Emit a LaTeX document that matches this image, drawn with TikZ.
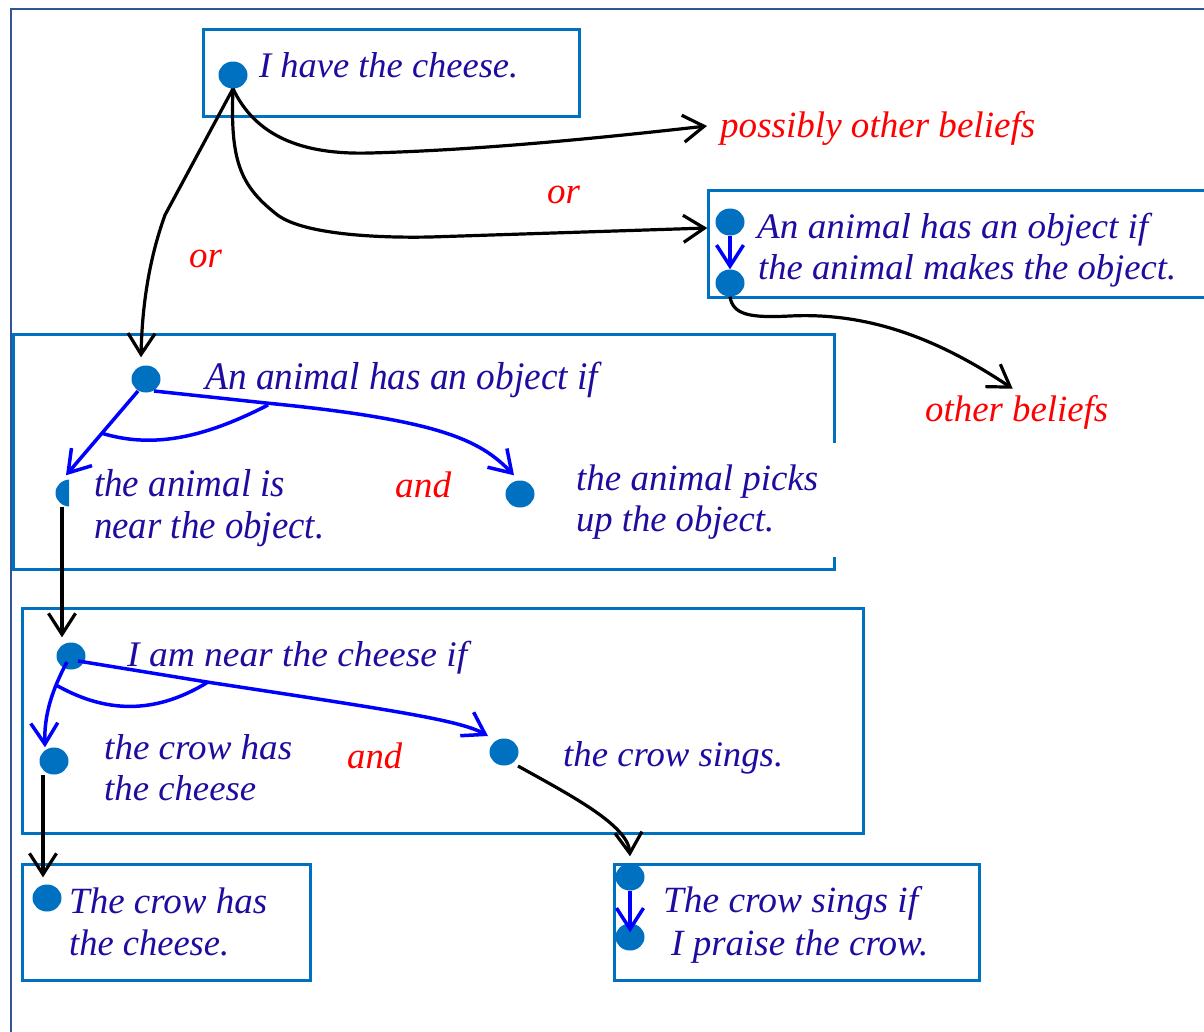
\documentclass[tikz,border=0pt]{standalone}
\usepackage{fontspec}
\setmainfont{Liberation Serif}
\usetikzlibrary{arrows.meta,shapes.geometric}
\definecolor{boxblue}{RGB}{0,112,192}
\definecolor{frameblue}{RGB}{47,85,151}
\definecolor{ink}{RGB}{30,12,160}
\newcommand{\fitw}[2]{\resizebox{#1pt}{\height}{#2}}
\begin{document}
\begin{tikzpicture}[x=1pt,y=-1pt,
  dot/.style={ellipse, fill=boxblue, minimum width=29pt, minimum height=27pt, inner sep=0pt},
  box/.style={draw=boxblue, line width=3pt},
  txt/.style={anchor=base west, inner sep=0pt, text=ink, font=\fontsize{#1}{#1}\selectfont\itshape},
  txt/.default=37,
  lbl/.style={anchor=base west, inner sep=0pt, text=red, font=\fontsize{37}{37}\selectfont\itshape},
  blk/.style={draw=black, line width=3.2pt, -{Straight Barb[length=21pt,width=27pt]}},
  blu/.style={draw=blue, line width=3.5pt, -{Straight Barb[length=21pt,width=27pt]}},
  arc/.style={draw=blue, line width=3.5pt},
]
\useasboundingbox (0,0) rectangle (1204,1031);
\fill[white] (0,0) rectangle (1204,1031);
% outer frame
\draw[frameblue, line width=2.5pt] (11,1045) -- (11,9) -- (1220,9);

% boxes
\draw[box] (203,29) rectangle (579,116);
\draw[box] (1220,190) -- (708,190) -- (708,297) -- (1220,297);
\draw[box] (834,443) -- (834,334) -- (13,334) -- (13,569) -- (834,569) -- (834,557);
\draw[box] (22,608) rectangle (863,833);
\draw[box] (22,864) rectangle (310,980);
\draw[box] (614,864) rectangle (979,980);

% dots
\node[dot] (d1) at (233,75) {};
\node[dot] (d2a) at (730,222) {};
\node[dot] (d2b) at (730,283) {};
\node[dot] (d3) at (146,379) {};
\begin{scope}
  \clip (40,470) rectangle (69,520);
  \node[dot] (d3a) at (70,493) {};
\end{scope}
\node[dot] (d3b) at (520,494) {};
\node[dot] (d4) at (71,656) {};
\node[dot] (d4a) at (54,761) {};
\node[dot] (d4b) at (504,752) {};
\node[dot] (d5) at (47,898) {};
\node[dot] (d6a) at (630,877) {};
\node[dot] (d6b) at (630,937) {};

% texts
\node[txt=36] (t1) at (259,77) {\fitw{259}{I have the cheese.}};
\node[lbl] (pob) at (720,137) {\fitw{315}{possibly other beliefs}};
\node[lbl] (or1) at (547,203) {or};
\node[lbl] (or2) at (189,267) {or};
\node[txt=36] (t2a) at (757,238) {\fitw{391}{An animal has an object if}};
\node[txt=36] (t2b) at (758,279) {\fitw{418}{the animal makes the object.}};
\node[lbl] (ob) at (925,421) {\fitw{183}{other beliefs}};
\node[txt=39] (t3) at (205,389) {\fitw{393}{An animal has an object if}};
\node[txt=39] (t3a1) at (94,496) {\fitw{191}{the animal is}};
\node[txt=39] (t3a2) at (94,538) {\fitw{230}{near the object.}};
\node[lbl] (and1) at (395,497) {\fitw{56}{and}};
\node[txt] (t3b1) at (576,490) {\fitw{242}{the animal picks}};
\node[txt] (t3b2) at (576,531) {\fitw{198}{up the object.}};
\node[txt=36] (t4) at (127,666) {\fitw{340}{I am near the cheese if}};
\node[txt=36] (t4a1) at (104,759) {\fitw{188}{the crow has}};
\node[txt=36] (t4a2) at (104,800) {\fitw{152}{the cheese}};
\node[lbl] (and2) at (347,768) {\fitw{55}{and}};
\node[txt=36] (t4b) at (563,766) {\fitw{220}{the crow sings.}};
\node[txt] (t5a) at (69,913) {\fitw{198}{The crow has}};
\node[txt] (t5b) at (69,955) {\fitw{160}{the cheese.}};
\node[txt] (t6a) at (663,912) {\fitw{255}{The crow sings if}};
\node[txt] (t6b) at (671,955) {\fitw{257}{I praise the crow.}};

% black connectors
\draw[blk] (d1.south) .. controls (255,135) and (300,155) .. (370,153)
  .. controls (480,150) and (600,138) .. ([xshift=-13pt,yshift=2pt]pob.west);
\draw[blk] (d1.south) .. controls (230,160) and (240,185) .. (275,213)
  .. controls (300,235) and (380,238) .. (430,237) -- ([xshift=-8pt,yshift=-6pt]d2a.west);
\draw[blk] (d1.south) -- (165,215) .. controls (148,262) and (142,310) .. ([xshift=-5pt,yshift=8pt]d3.north);
\draw[blk] (d2b.south) .. controls (733,315) and (750,318) .. (790,316)
  .. controls (870,312) and (940,340) .. ([xshift=-4pt,yshift=6pt]ob.north);
\draw[blk] ([xshift=-8pt]d3a.south) -- ([xshift=-9pt,yshift=5pt]d4.north);
\draw[blk] ([xshift=-11pt]d4a.south) -- ([xshift=-4pt,yshift=7pt]d5.north);
\draw[blk] ([shift={(14pt,-14pt)}]d4b.center) .. controls (570,795) and (628,825) .. ([yshift=7pt]d6a.north);

% blue connectors
\draw[blu] (d2a.south) -- (d2b.north);
\draw[blu] (d6a.south) -- ([yshift=-9pt]d6b.north);
\draw[blu] ([shift={(-8pt,-12pt)}]d3.center) -- ([xshift=-4pt,yshift=4pt]d3a.north);
\draw[blu] ([shift={(8pt,-12pt)}]d3.center) -- (266,403) .. controls (440,420) and (480,440) .. ([xshift=-6pt,yshift=5pt]d3b.north);
\draw[arc] (101,433) .. controls (150,448) and (200,440) .. (268,405);
\draw[blu] ([shift={(-4pt,-6pt)}]d4.center) .. controls (52,690) and (44,715) .. ([xshift=-9pt]d4a.north);
\draw[blu] ([shift={(7pt,-5pt)}]d4.center) -- (207,682) .. controls (390,710) and (460,720) .. ([shift={(-16pt,16pt)}]d4b.center);
\draw[arc] (56,685) .. controls (100,710) and (150,718) .. (208,682);
\end{tikzpicture}
\end{document}
